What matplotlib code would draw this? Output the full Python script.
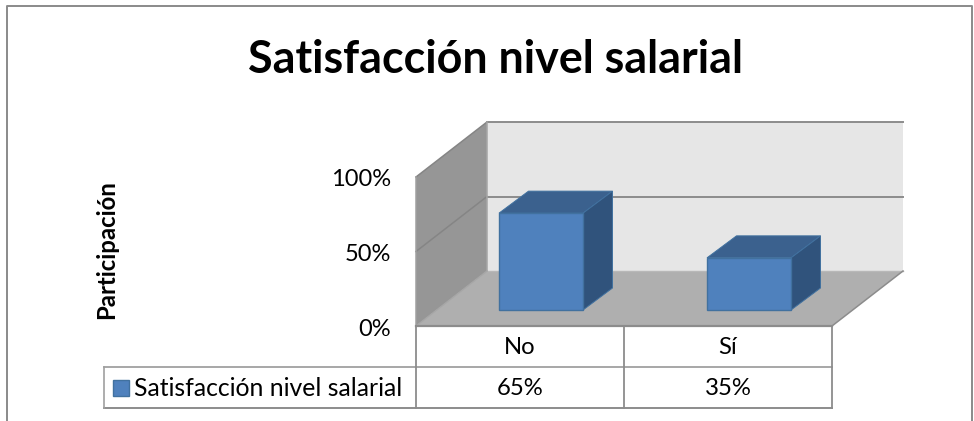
import matplotlib
matplotlib.use("Agg")
import matplotlib.pyplot as plt
from matplotlib.patches import Polygon, Rectangle

plt.rcParams["font.family"] = ["Lato", "DejaVu Sans"]

categories = ["No", "Sí"]
values = [65, 35]
value_labels = ["65%", "35%"]
y_ticks = [0, 50, 100]
y_tick_labels = ["0%", "50%", "100%"]
series_name = "Satisfacción nivel salarial"
title = "Satisfacción nivel salarial"
ylabel = "Participación"

# plot box, in pixels of the picture
LEFT = 416
RIGHT = 832
BASE = 326
PX_PER_UNIT = 1.49
DEPTH_X = 71
DEPTH_Y = 55
BAR_W = 84
BAR_DX = 29.5
BAR_DY = 22

LINE = "#8c8c8c"
WALL_BACK = "#e6e6e6"
WALL_SIDE = "#969696"
FLOOR = "#afafaf"
FRONT = "#4f81bd"
TOP = "#3b618e"
SIDE = "#30537c"
EDGE = "#41719f"


def val_y(v):
    return BASE - v * PX_PER_UNIT


fig = plt.figure(figsize=(9.74, 4.21), dpi=100)
ax = fig.add_axes([0, 0, 1, 1])
ax.set_xlim(0, 974)
ax.set_ylim(421, 0)
ax.axis("off")

# outer frame
ax.plot([7, 7, 972, 972], [421, 5.5, 5.5, 421], color="#8a8a8a", lw=1.4)

top_y = val_y(max(y_ticks))

# walls and floor
ax.add_patch(Rectangle((LEFT + DEPTH_X, top_y - DEPTH_Y), RIGHT - LEFT,
                       BASE - top_y, fc=WALL_BACK, ec="none"))
ax.add_patch(Polygon([(LEFT, BASE), (LEFT, top_y), (LEFT + DEPTH_X, top_y - DEPTH_Y),
                      (LEFT + DEPTH_X, BASE - DEPTH_Y)], fc=WALL_SIDE, ec="none"))
ax.add_patch(Polygon([(LEFT, BASE), (RIGHT, BASE), (RIGHT + DEPTH_X, BASE - DEPTH_Y),
                      (LEFT + DEPTH_X, BASE - DEPTH_Y)], fc=FLOOR, ec="none"))

# gridlines
for t in y_ticks:
    y = val_y(t)
    if t > 0:
        ax.plot([LEFT, LEFT + DEPTH_X], [y, y - DEPTH_Y], color="#858585", lw=1.1)
        ax.plot([LEFT + DEPTH_X, RIGHT + DEPTH_X], [y - DEPTH_Y, y - DEPTH_Y], color=LINE, lw=1.4)
ax.plot([LEFT + DEPTH_X, RIGHT + DEPTH_X], [BASE - DEPTH_Y, BASE - DEPTH_Y], color="#b8b8b8", lw=1)
ax.plot([LEFT + DEPTH_X, LEFT + DEPTH_X], [top_y - DEPTH_Y, BASE - DEPTH_Y], color="#a6a6a6", lw=1.1)
ax.plot([LEFT, LEFT], [top_y, BASE], color="#a0a0a0", lw=1.1)
ax.plot([LEFT, LEFT + DEPTH_X], [BASE, BASE - DEPTH_Y], color="#a6a6a6", lw=1)
ax.plot([RIGHT, RIGHT + DEPTH_X], [BASE, BASE - DEPTH_Y], color=LINE, lw=1.1)

# bars
cell_w = (RIGHT - LEFT) / len(categories)
bar_floor = BASE - 16
for i, v in enumerate(values):
    x0 = LEFT + cell_w * i + 83
    x1 = x0 + BAR_W
    y1 = bar_floor - v * PX_PER_UNIT
    ax.add_patch(Polygon([(x0, y1), (x1, y1), (x1 + BAR_DX, y1 - BAR_DY), (x0 + BAR_DX, y1 - BAR_DY)],
                         fc=TOP, ec=EDGE, lw=0.7, zorder=3))
    ax.add_patch(Polygon([(x1, y1), (x1 + BAR_DX, y1 - BAR_DY), (x1 + BAR_DX, bar_floor - BAR_DY), (x1, bar_floor)],
                         fc=SIDE, ec=EDGE, lw=0.7, zorder=3))
    ax.add_patch(Rectangle((x0, y1), BAR_W, bar_floor - y1, fc=FRONT, ec=EDGE, lw=1, zorder=4))

# data table
row1 = 367
row2 = 408
table_left = 104
ax.plot([LEFT, RIGHT], [BASE, BASE], color=LINE, lw=1.6)
ax.plot([table_left, RIGHT], [row1, row1], color="#a0a0a0", lw=1.3)
ax.plot([table_left, RIGHT], [row2, row2], color=LINE, lw=1.4)
ax.plot([table_left, table_left], [row1, row2], color="#a0a0a0", lw=1.2)
for i in range(len(categories) + 1):
    ax.plot([LEFT + cell_w * i] * 2, [BASE, row2], color=LINE, lw=1.3)
for i, c in enumerate(categories):
    xc = LEFT + cell_w * (i + 0.5)
    ax.text(xc, (BASE + row1) / 2 + 1, c, ha="center", va="center", fontsize=17.2, color="black")
    ax.text(xc, (row1 + row2) / 2 + 1, value_labels[i], ha="center", va="center", fontsize=17.2, color="black")

# legend key in the table
ax.add_patch(Rectangle((113, 380), 16, 16, fc=FRONT, ec=EDGE, lw=1))
ax.text(134, (row1 + row2) / 2 + 0.5, series_name, ha="left", va="center", fontsize=17.8, color="black")

# axis labels
for t, lab in zip(y_ticks, y_tick_labels):
    ax.text(391, val_y(t) + 3, lab, ha="right", va="center", fontsize=17, color="black")
ax.text(106.5, 250, ylabel, rotation=90, ha="center", va="center", fontsize=17.2, fontweight="bold", color="black")
ax.text(496, 60, title, ha="center", va="center", fontsize=32.3, fontweight="bold", color="black")

fig.savefig("out.png", dpi=100)
